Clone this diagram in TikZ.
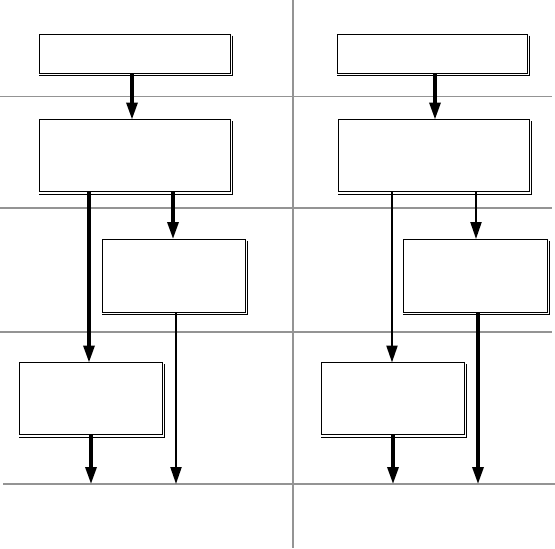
\documentclass[tikz,border=0pt]{standalone}
\usetikzlibrary{arrows.meta}
\tikzset{
  grid/.style={draw=black!42, line width=1.8pt},
  box/.style={draw, fill=white, line width=1pt, inner sep=0pt, outer sep=0pt},
  shad/.style={draw, line width=1pt},
  arr/.style={draw, -{Triangle[width=11pt,length=17pt]}},
  thk/.style={line width=3.2pt},
  thn/.style={line width=2.2pt}
}
\newcommand{\shadowof}[1]{\draw[shad] ([shift={(2.5,1.5)}]#1.north east) -- ([shift={(2.5,2.5)}]#1.south east) -- ([shift={(0,2.5)}]#1.south west);}
\begin{document}
\begin{tikzpicture}[x=1pt,y=-1pt]
\useasboundingbox (0,0) rectangle (555,549);
% grid lines
\coordinate (v1) at (293,0);
\coordinate (v2) at (293,548);
\coordinate (h1a) at (0,96.5);   \coordinate (h1b) at (552,96.5);
\coordinate (h2a) at (0,208);    \coordinate (h2b) at (552,208);
\coordinate (h3a) at (0,332);    \coordinate (h3b) at (552,332);
\coordinate (h4a) at (3,484);    \coordinate (h4b) at (555,484);
\draw[grid] (v1) -- (v2);
\draw[grid] (h1a) -- (h1b);
\draw[grid] (h2a) -- (h2b);
\draw[grid] (h3a) -- (h3b);
\draw[grid] (h4a) -- (h4b);
% left column boxes
\node[box, minimum width=191pt, minimum height=39pt] (A) at (134.5,53.5) {};
\node[box, minimum width=191pt, minimum height=72pt] (B) at (134.5,155.5) {};
\node[box, minimum width=143pt, minimum height=73pt] (C) at (173.5,275.5) {};
\node[box, minimum width=143pt, minimum height=72pt] (D) at (90.5,398.5) {};
% right column boxes
\node[box, minimum width=190pt, minimum height=39pt] (A2) at (432,53.5) {};
\node[box, minimum width=191pt, minimum height=72pt] (B2) at (433.5,155.5) {};
\node[box, minimum width=144pt, minimum height=73pt] (C2) at (475,275.5) {};
\node[box, minimum width=143pt, minimum height=72pt] (D2) at (392.5,398.5) {};
\shadowof{A}\shadowof{B}\shadowof{C}\shadowof{D}
\shadowof{A2}\shadowof{B2}\shadowof{C2}\shadowof{D2}
% x positions of connectors
\coordinate (xa) at (132,0);
\coordinate (xbd) at (89,0);
\coordinate (xbc) at (173,0);
\coordinate (xc) at (176,484);
\coordinate (xd) at (91,484);
\coordinate (xa2) at (435,0);
\coordinate (xbd2) at (392,0);
\coordinate (xbc2) at (476,0);
\coordinate (xc2) at (478,484);
\coordinate (xd2) at (393,484);
% left connectors
\draw[arr,thk] (A.south -| xa) -- (B.north -| xa);
\draw[arr,thk] (B.south -| xbd) -- (D.north -| xbd);
\draw[arr,thk] (B.south -| xbc) -- (C.north -| xbc);
\draw[arr,thn] (C.south -| xc) -- (xc);
\draw[arr,thk] (D.south -| xd) -- (xd);
% right connectors
\draw[arr,thk] (A2.south -| xa2) -- (B2.north -| xa2);
\draw[arr,thn] (B2.south -| xbd2) -- (D2.north -| xbd2);
\draw[arr,thn] (B2.south -| xbc2) -- (C2.north -| xbc2);
\draw[arr,thk] (C2.south -| xc2) -- (xc2);
\draw[arr,thk] (D2.south -| xd2) -- (xd2);
\end{tikzpicture}
\end{document}
